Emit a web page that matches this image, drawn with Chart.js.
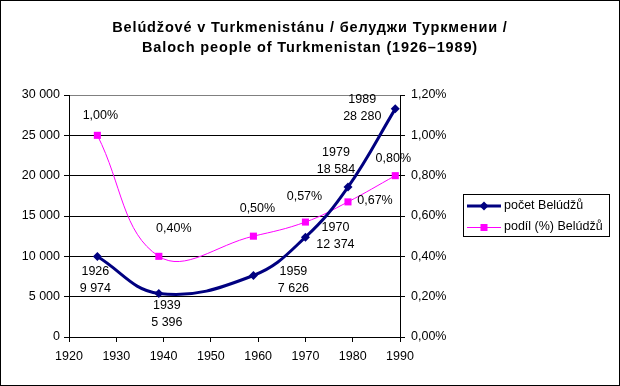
<!DOCTYPE html>
<html>
<head>
<meta charset="utf-8">
<script src="https://cdn.jsdelivr.net/npm/chart.js@4/dist/chart.umd.min.js"></script>
<style>
  html, body { margin: 0; padding: 0; background: #fff; }
  #wrap { width: 620px; height: 386px; position: relative; }
</style>
</head>
<body>
<div id="wrap"><canvas id="chart" width="620" height="386"></canvas></div>
<script>
// data
const years = [1926, 1939, 1959, 1970, 1979, 1989];
const counts = [9974, 5396, 7626, 12374, 18584, 28280];
const shares = [1.00, 0.40, 0.50, 0.57, 0.67, 0.80];
const titleLines = ['Belúdžové v Turkmenistánu / белуджи Туркмении /', 'Baloch people of Turkmenistan (1926–1989)'];
const seriesNames = ['počet Belúdžů', 'podíl (%) Belúdžů'];

const FONT = 'Arial, "Liberation Sans", sans-serif';

function fmt(n) {
    return String(n).replace(/\B(?=(\d{3})+(?!\d))/g, ' ');
}
function fmtPct(v) {
    return v.toFixed(2).replace('.', ',') + '%';
}

// label offsets relative to the point (pixels)
const countLabelPos = [[-2, 15], [8, 12], [40, -4], [30, -10], [-12, -35], [-33, -9]];
const shareLabelPos = [[3, -20], [15, -28], [4, -28], [-1, -26], [27, -1], [-2, -17]];

const extras = {
    id: 'extras',
    afterDatasetsDraw(chart) {
        const ctx = chart.ctx;
        ctx.save();
        ctx.fillStyle = '#000';
        ctx.font = '12.5px ' + FONT;
        ctx.textAlign = 'center';
        ctx.textBaseline = 'middle';

        const m0 = chart.getDatasetMeta(0);
        m0.data.forEach((pt, i) => {
            const [dx, dy] = countLabelPos[i];
            ctx.fillText(String(years[i]), pt.x + dx, pt.y + dy);
            ctx.fillText(fmt(counts[i]), pt.x + dx, pt.y + dy + 17);
        });
        const m1 = chart.getDatasetMeta(1);
        m1.data.forEach((pt, i) => {
            const [dx, dy] = shareLabelPos[i];
            ctx.fillText(fmtPct(shares[i]), pt.x + dx, pt.y + dy);
        });
        ctx.restore();
    },
    afterDraw(chart) {
        const ctx = chart.ctx;
        ctx.save();
        // title
        ctx.fillStyle = '#000';
        ctx.font = 'bold 14.5px ' + FONT;
        ctx.letterSpacing = '0.85px';
        ctx.textAlign = 'center';
        ctx.textBaseline = 'middle';
        ctx.fillText(titleLines[0], 310, 28);
        ctx.fillText(titleLines[1], 310, 48);
        ctx.letterSpacing = '0px';

        // legend
        ctx.strokeStyle = '#000';
        ctx.lineWidth = 1;
        ctx.strokeRect(463.5, 194.5, 146, 42);
        ctx.font = '12.5px ' + FONT;
        ctx.textAlign = 'left';

        ctx.strokeStyle = '#000080';
        ctx.lineWidth = 3;
        ctx.beginPath(); ctx.moveTo(467, 206); ctx.lineTo(501, 206); ctx.stroke();
        ctx.fillStyle = '#000080';
        ctx.beginPath();
        ctx.moveTo(484, 201.5); ctx.lineTo(488.5, 206); ctx.lineTo(484, 210.5); ctx.lineTo(479.5, 206);
        ctx.closePath(); ctx.fill();

        ctx.strokeStyle = '#ff00ff';
        ctx.lineWidth = 1;
        ctx.beginPath(); ctx.moveTo(467, 227.5); ctx.lineTo(501, 227.5); ctx.stroke();
        ctx.fillStyle = '#ff00ff';
        ctx.fillRect(480.5, 224, 7, 7);

        ctx.fillStyle = '#000';
        ctx.fillText(seriesNames[0], 504, 206);
        ctx.fillText(seriesNames[1], 504, 227);

        // outer border
        ctx.strokeStyle = '#000';
        ctx.lineWidth = 1;
        ctx.strokeRect(0.5, 0.5, 619, 385);
        ctx.restore();
    }
};

const tickFont = { family: FONT, size: 12.5 };

new Chart(document.getElementById('chart'), {
    type: 'line',
    data: {
        datasets: [{
            label: seriesNames[0],
            data: years.map((y, i) => ({ x: y, y: counts[i] })),
            yAxisID: 'y',
            borderColor: '#000080',
            backgroundColor: '#000080',
            borderWidth: 3,
            tension: 0.4,
            pointStyle: 'rectRot',
            pointRadius: 4.5,
            pointBorderWidth: 0,
            fill: false
        }, {
            label: seriesNames[1],
            data: years.map((y, i) => ({ x: y, y: shares[i] })),
            yAxisID: 'y1',
            borderColor: '#ff00ff',
            backgroundColor: '#ff00ff',
            borderWidth: 1,
            tension: 0.4,
            pointStyle: 'rect',
            pointRadius: 5,
            pointBorderWidth: 0,
            fill: false
        }]
    },
    options: {
        responsive: false,
        animation: false,
        events: [],
        clip: false,
        layout: { padding: { left: 0, right: 170, top: 95, bottom: 19 } },
        plugins: {
            legend: { display: false },
            title: { display: false },
            tooltip: { enabled: false }
        },
        scales: {
            x: {
                type: 'linear',
                min: 1920,
                max: 1990,
                afterFit: s => { s.height = 30; },
                ticks: { stepSize: 10, color: '#000', font: tickFont, padding: 7, maxRotation: 0,
                    callback: v => String(v) },
                grid: { drawOnChartArea: false, tickLength: 5, color: '#000', tickColor: '#000' },
                border: { color: '#000', width: 1 }
            },
            y: {
                position: 'left',
                min: 0,
                max: 30000,
                afterFit: s => { s.width = 69; },
                ticks: { stepSize: 5000, color: '#000', font: tickFont, padding: 4, callback: v => fmt(v) },
                grid: {
                    color: c => (c.tick && c.tick.value === 30000) ? '#808080' : '#000',
                    tickColor: '#000',
                    tickLength: 5
                },
                border: { color: '#000', width: 1 }
            },
            y1: {
                position: 'right',
                min: 0,
                max: 1.2,
                afterFit: s => { s.width = 50; },
                ticks: { stepSize: 0.2, color: '#000', font: tickFont, padding: 6, callback: v => fmtPct(v) },
                grid: { drawOnChartArea: false, tickLength: 5, color: '#000', tickColor: '#000' },
                border: { color: '#000', width: 1 }
            }
        }
    },
    plugins: [extras]
});
</script>
</body>
</html>
